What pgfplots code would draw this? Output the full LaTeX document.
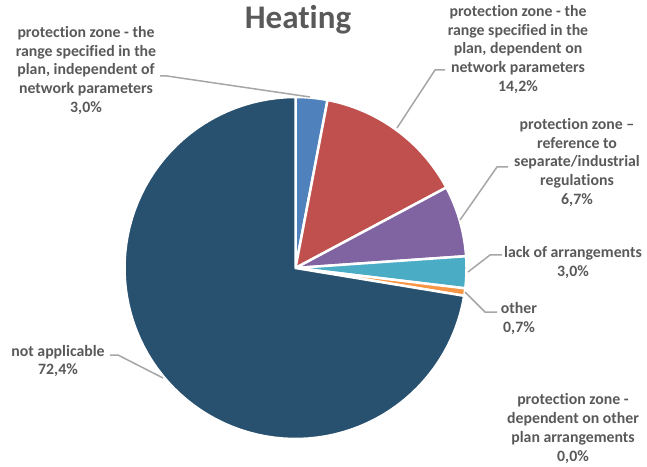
\documentclass[border=0pt]{standalone}
\usepackage{pgfplots}
\pgfplotsset{compat=1.18}
\usepackage{fontspec}
\setmainfont{Carlito}[Ligatures=NoCommon]

\definecolor{sBlue}{HTML}{4F81BD}
\definecolor{sRed}{HTML}{C0504D}
\definecolor{sPurple}{HTML}{8064A2}
\definecolor{sAqua}{HTML}{4BACC6}
\definecolor{sOrange}{HTML}{F79646}
\definecolor{sGrey}{HTML}{A5A5A5}
\definecolor{sNavy}{HTML}{28506F}
\definecolor{labelText}{HTML}{595959}
\definecolor{leader}{HTML}{A6A6A6}

% pie geometry (axis units)
\def\cx{295.5}
\def\cy{198}
\def\rad{171}
\xdef\cum{0}

% one wedge, clockwise from 12 o'clock, value in percent
\newcommand\slice[2]{%
  \ifdim #1pt>0pt
    \pgfmathsetmacro\angA{90-3.6*\cum}%
    \pgfmathsetmacro\angB{90-3.6*(\cum+#1)}%
    \edef\doslice{\noexpand\addplot[fill=#2, draw=white, line width=2.5pt,
        line join=round, domain=\angB:\angA, samples=90]
        ({\cx+\rad*cos(x)},{\cy+\rad*sin(x)}) -- (axis cs:\cx,\cy) -- cycle;}%
    \doslice
  \fi
  \pgfmathsetmacro\newcum{\cum+#1}%
  \xdef\cum{\newcum}%
}

\begin{document}
\begin{tikzpicture}
\begin{axis}[
  x=1pt, y=1pt,
  xmin=0, xmax=647, ymin=0, ymax=466,
  hide axis, clip=false,
]
\path (axis cs:0,0) rectangle (axis cs:647,466);

\slice{3.0}{sBlue}
\slice{14.2}{sRed}
\slice{6.7}{sPurple}
\slice{3.0}{sAqua}
\slice{0.7}{sOrange}
\slice{0.0}{sGrey}
\slice{72.4}{sNavy}

% leader lines
\begin{scope}[leader, line width=1.5pt]
\draw (axis cs:160,390) -- (axis cs:167,390) -- (axis cs:310,369);
\draw (axis cs:445,396) -- (axis cs:435,396) -- (axis cs:397,338);
\draw (axis cs:508,299) -- (axis cs:497,299) -- (axis cs:460,246);
\draw (axis cs:502,211) -- (axis cs:490,211) -- (axis cs:468,194);
\draw (axis cs:465,174) -- (axis cs:485,154) -- (axis cs:497,154);
\draw (axis cs:110,111) -- (axis cs:118,111) -- (axis cs:163,88);
\end{scope}

\begin{scope}[every node/.style={text=labelText, align=center,
    font=\fontsize{15.8}{18.7}\selectfont\bfseries, inner sep=0pt}]
\node at (axis cs:86,395.5) {protection zone - the\\range specified in the\\plan, independent of\\network parameters\\3,0\%};
\node at (axis cs:518,416.5) {protection zone - the\\range specified in the\\plan, dependent on\\network parameters\\14,2\%};
\node at (axis cs:577,303.5) {protection zone --\\reference to\\separate/industrial\\regulations\\6,7\%};
\node at (axis cs:573,203.5) {lack of arrangements\\3,0\%};
\node at (axis cs:519,147.5) {other\\0,7\%};
\node at (axis cs:573,37.5) {protection zone -\\dependent on other\\plan arrangements\\0,0\%};
\node at (axis cs:58,105) {not applicable\\72,4\%};
\end{scope}

\node[text=labelText, font=\fontsize{33}{37}\selectfont\bfseries, anchor=base]
  at (axis cs:298,437) {Heating};
\end{axis}
\end{tikzpicture}
\end{document}
